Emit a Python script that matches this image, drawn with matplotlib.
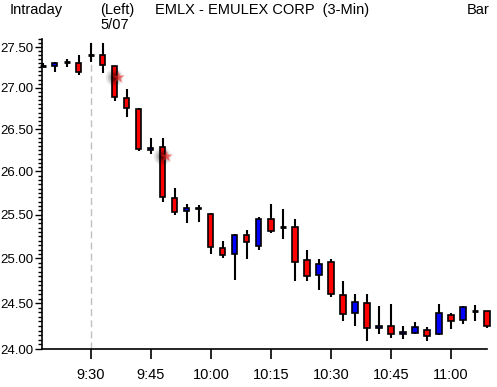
import numpy as np
import matplotlib
matplotlib.use("Agg")
import matplotlib.pyplot as plt
from matplotlib.ticker import FixedLocator, NullFormatter

plt.rcParams['font.family'] = ['Liberation Sans', 'DejaVu Sans']

# 3-min bars, first bar is 9:18, last 11:09
opens  = [27.27, 27.26, 27.31, 27.30, 27.40, 27.40, 27.26, 26.88, 26.74, 26.25,
          26.29, 25.69, 25.54, 25.58, 25.51, 25.12, 25.05, 25.27, 25.14, 25.45,
          25.36, 25.36, 24.98, 24.81, 24.96, 24.59, 24.39, 24.50, 24.23, 24.25,
          24.16, 24.17, 24.21, 24.16, 24.37, 24.32, 24.42, 24.41]
highs  = [27.30, 27.32, 27.35, 27.40, 27.55, 27.55, 27.27, 26.98, 26.75, 26.39,
          26.40, 25.81, 25.62, 25.61, 25.52, 25.20, 25.28, 25.32, 25.47, 25.62,
          25.56, 25.45, 25.10, 24.99, 24.99, 24.75, 24.60, 24.60, 24.47, 24.49,
          24.25, 24.29, 24.24, 24.49, 24.39, 24.47, 24.48, 24.42]
lows   = [27.25, 27.19, 27.25, 27.16, 27.31, 27.18, 26.84, 26.65, 26.24, 26.20,
          25.65, 25.49, 25.40, 25.41, 25.05, 25.00, 24.76, 24.99, 25.09, 25.29,
          25.22, 24.75, 24.75, 24.65, 24.57, 24.31, 24.25, 24.09, 24.16, 24.12,
          24.11, 24.16, 24.09, 24.15, 24.22, 24.27, 24.31, 24.23]
closes = [27.27, 27.30, 27.31, 27.19, 27.40, 27.28, 26.89, 26.75, 26.26, 26.28,
          25.70, 25.53, 25.58, 25.56, 25.13, 25.04, 25.27, 25.19, 25.45, 25.31,
          25.36, 24.96, 24.80, 24.94, 24.60, 24.38, 24.51, 24.23, 24.25, 24.16,
          24.19, 24.24, 24.14, 24.39, 24.31, 24.46, 24.42, 24.25]

tick_bars = [4, 9, 14, 19, 24, 29, 34]
tick_labels = ['9:30', '9:45', '10:00', '10:15', '10:30', '10:45', '11:00']
y_ticks = [24.0, 24.5, 25.0, 25.5, 26.0, 26.5, 27.0, 27.5]
day_start_bar = 4

# alert markers
marker_bars = [6, 10]
marker_prices = [27.13, 26.18]

fig = plt.figure(figsize=(4.97, 3.87), dpi=100)
ax = fig.add_axes([42/497, 38/387, 445/497, 310/387])

x = np.arange(len(opens))
o = np.array(opens); h = np.array(highs); l = np.array(lows); c = np.array(closes)

ax.axvline(day_start_bar, color='#c0c0c0', lw=1, ls=(0, (5, 3)), zorder=1)

ax.vlines(x, l, h, color='black', lw=1.5, zorder=2, clip_on=False)
for i in range(len(x)):
    if o[i] == c[i]:
        ax.hlines(c[i], x[i] - 0.27, x[i] + 0.27, color='black', lw=2, zorder=3, clip_on=False)
    else:
        col = 'blue' if c[i] > o[i] else 'red'
        ax.bar(x[i], abs(c[i] - o[i]), bottom=min(o[i], c[i]), width=0.42,
               color=col, edgecolor='black', lw=1.2, zorder=3, clip_on=False)

# blurred alert markers
for b, p in zip(marker_bars, marker_prices):
    for s, a in [(160, 0.08), (100, 0.12), (50, 0.2), (20, 0.3)]:
        ax.scatter(b - 0.1, p, s=s, color='black', alpha=a, lw=0, zorder=4, clip_on=False)
    for s, a in [(110, 0.25), (60, 0.5)]:
        ax.scatter(b + 0.25, p, s=s, marker='*', color='#ff2020', alpha=a, lw=0, zorder=5, clip_on=False)

ax.set_yscale('log')
ax.set_ylim(24.0, 27.60)
ax.set_xlim(-0.08, 37)
ax.yaxis.set_major_locator(FixedLocator(y_ticks))
ax.yaxis.set_minor_locator(FixedLocator(np.arange(24.0, 27.6, 0.05)))
ax.yaxis.set_minor_formatter(NullFormatter())
ax.set_yticklabels(['%.2f' % v for v in y_ticks])
ax.set_xticks(tick_bars)
ax.set_xticklabels(tick_labels)

for side in ['top', 'right']:
    ax.spines[side].set_visible(False)
ax.spines['left'].set_linewidth(1.2)
ax.spines['bottom'].set_linewidth(1.2)
ax.tick_params(axis='y', which='major', length=5, width=1, labelsize=9.5, pad=1.5)
ax.tick_params(axis='y', which='minor', length=3, width=1)
ax.tick_params(axis='x', length=7, width=1.2, labelsize=10.5, pad=7)

fig.text(10/497, 1 - 10/387, 'Intraday', fontsize=10.5, va='center', ha='left')
fig.text(100/497, 1 - 10/387, '(Left)', fontsize=10.5, va='center', ha='left')
fig.text(100/497, 1 - 25/387, '5/07', fontsize=10.5, va='center', ha='left')
fig.text(155/497, 1 - 10/387, 'EMLX - EMULEX CORP  (3-Min)', fontsize=10.5, va='center', ha='left')
fig.text(467/497, 1 - 10/387, 'Bar', fontsize=10.5, va='center', ha='left')

fig.savefig('out.png', dpi=100)
